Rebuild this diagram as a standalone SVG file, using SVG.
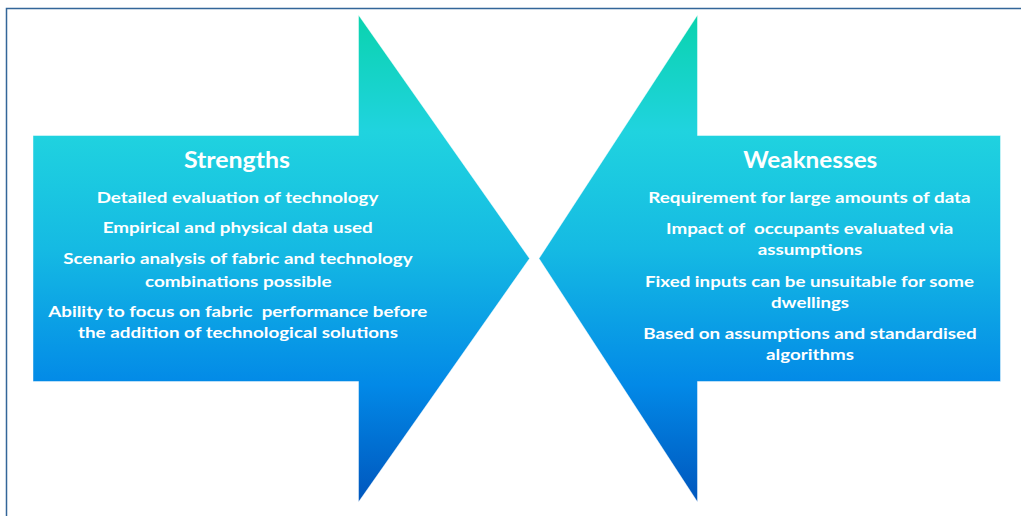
<svg xmlns="http://www.w3.org/2000/svg" width="1021" height="516" viewBox="0 0 1021 516">
<defs>
<linearGradient id="g" gradientUnits="userSpaceOnUse" x1="0" y1="15" x2="0" y2="502">
<stop offset="0" stop-color="#0ad3ae"/>
<stop offset="0.24" stop-color="#20d3df"/>
<stop offset="0.48" stop-color="#15bae3"/>
<stop offset="0.76" stop-color="#0289e7"/>
<stop offset="1" stop-color="#0056bd"/>
</linearGradient>
<style>
.arrow{fill:url(#g);stroke:#ffffff;stroke-opacity:0.45;stroke-width:1}
.t{font-family:Lato,"Liberation Sans",sans-serif;font-weight:bold;fill:#ffffff;text-anchor:middle}
.h{font-size:22px}
.b{font-size:16px}
</style>
</defs>
<rect width="1021" height="516" fill="#ffffff"/>
<path d="M6.5,516 V8.5 H1021" fill="none" stroke="#336699" stroke-width="1.5"/>
<g id="strengths">
<polygon class="arrow" points="33,135.5 358.5,135.5 358.5,15 529.5,258.5 358.5,502 358.5,381.5 33,381.5"/>
<text class="t h" x="237" y="167.5" textLength="106" lengthAdjust="spacingAndGlyphs">Strengths</text>
<text class="t b" x="237.5" y="203.3" textLength="281.6" lengthAdjust="spacingAndGlyphs">Detailed evaluation of technology</text>
<text class="t b" x="237.7" y="233.3" textLength="270" lengthAdjust="spacingAndGlyphs">Empirical and physical data used</text>
<text class="t b" x="238" y="264" textLength="349.4" lengthAdjust="spacingAndGlyphs">Scenario analysis of fabric and technology</text>
<text class="t b" x="238.3" y="286.7" textLength="186.7" lengthAdjust="spacingAndGlyphs">combinations possible</text>
<text class="t b" x="237.8" y="316.7" textLength="379" lengthAdjust="spacingAndGlyphs" xml:space="preserve">Ability to focus on fabric  performance before</text>
<text class="t b" x="238" y="338.3" textLength="320" lengthAdjust="spacingAndGlyphs">the addition of technological solutions</text>
</g>
<g id="weaknesses">
<polygon class="arrow" points="1000.5,135.5 697.5,135.5 697.5,15 539,258.5 697.5,502 697.5,381.5 1000.5,381.5"/>
<text class="t h" x="810.3" y="168.3" textLength="134" lengthAdjust="spacingAndGlyphs">Weaknesses</text>
<text class="t b" x="809.5" y="203.3" textLength="322.4" lengthAdjust="spacingAndGlyphs">Requirement for large amounts of data</text>
<text class="t b" x="809.7" y="234.3" textLength="287.3" lengthAdjust="spacingAndGlyphs" xml:space="preserve">Impact of  occupants evaluated via</text>
<text class="t b" x="810" y="255" textLength="104.7" lengthAdjust="spacingAndGlyphs">assumptions</text>
<text class="t b" x="809.5" y="286.7" textLength="329" lengthAdjust="spacingAndGlyphs">Fixed inputs can be unsuitable for some</text>
<text class="t b" x="810" y="308.3" textLength="78" lengthAdjust="spacingAndGlyphs">dwellings</text>
<text class="t b" x="810" y="339" textLength="333.4" lengthAdjust="spacingAndGlyphs">Based on assumptions and standardised</text>
<text class="t b" x="810" y="360" textLength="88" lengthAdjust="spacingAndGlyphs">algorithms</text>
</g>
<g id="connectors"/>
</svg>
